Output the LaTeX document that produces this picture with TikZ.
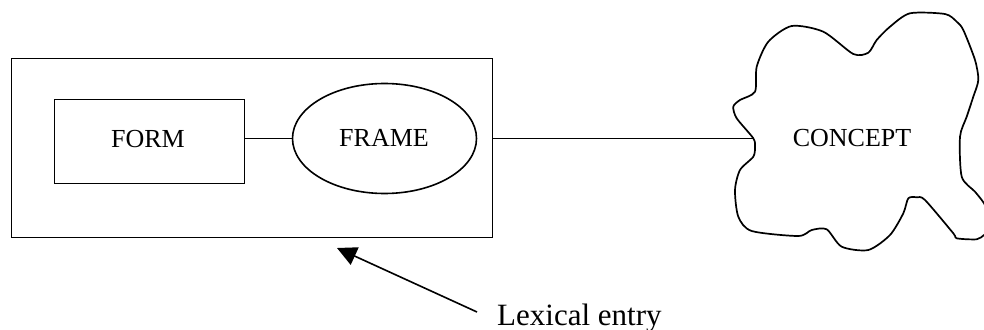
\documentclass[tikz,border=0pt]{standalone}
\usepackage{fontspec}
\setmainfont{Liberation Serif}
\usetikzlibrary{arrows.meta,shapes.geometric}
\tikzset{
  box/.style={draw,line width=1.6pt,rectangle,inner sep=0pt},
  oval/.style={draw,line width=1.6pt,ellipse,inner sep=0pt},
  lbl/.style={font=\fontsize{26}{30}\selectfont,inner sep=0pt},
  conn/.style={line width=1.6pt},
  cloudline/.style={line width=1.7pt,line join=round}
}
\begin{document}
\begin{tikzpicture}[x=1pt,y=-1pt]
\useasboundingbox (0,0) rectangle (984,329);
\clip (0,0) rectangle (984,329);
\node[box,minimum width=481pt,minimum height=179pt] (entry) at (252,148) {};
\node[box,minimum width=190pt,minimum height=84pt] (form) at (149.5,141.5) {};
\node[lbl] (formtxt) at (148,139.5) {FORM};
\node[oval,minimum width=184pt,minimum height=110pt] (frame) at (384.5,138.5) {};
\node[lbl] (frametxt) at (384,138) {FRAME};
\draw[cloudline] plot[smooth cycle,tension=0.45] coordinates {
 (753.3,138.3) (736.7,118.3) (733.3,106.7) (740,100) (755,91.7) (756.7,66.7)
 (768.3,41.7) (791.7,26) (823.3,31.7) (853.3,54) (868.3,52.7) (876.7,40)
 (890,26.7) (910,13.3) (945,14) (956.7,21.7) (963.3,30) (975,60) (978.3,80)
 (973.3,96.7) (966.7,116.7) (960,136.7) (961.7,176.7) (975,191.7) (984,203.3)
 (990,216.7) (990,230) (984,235) (976.7,239.3) (956.7,238.3) (953.3,233.3)
 (925,200) (916.7,197.3) (908.3,198.3) (903.3,213.3) (890,235) (868.3,250)
 (841.7,246.7) (826.7,229.3) (811.7,230) (798.3,236) (751.7,231) (738.3,216.7)
 (735,190) (740,170) (753.3,156.7) (755,146.7)};
\coordinate (cloudL) at (753.3,138.3);
\node[lbl] (concept) at (852,138.3) {CONCEPT};
\draw[conn] (form.east |- frame.west) -- (frame.west);
\draw[conn] (entry.east |- cloudL) -- (cloudL);
\node[lbl,font=\fontsize{31}{36}\selectfont,anchor=base west] (lex) at (497,325) {Lexical entry};
\coordinate (arrStart) at (477,312);
\coordinate (tip) at (337,248);
\draw[conn,-{Triangle[length=19.5pt,width=19pt]}] (arrStart) -- (tip);
\end{tikzpicture}
\end{document}
